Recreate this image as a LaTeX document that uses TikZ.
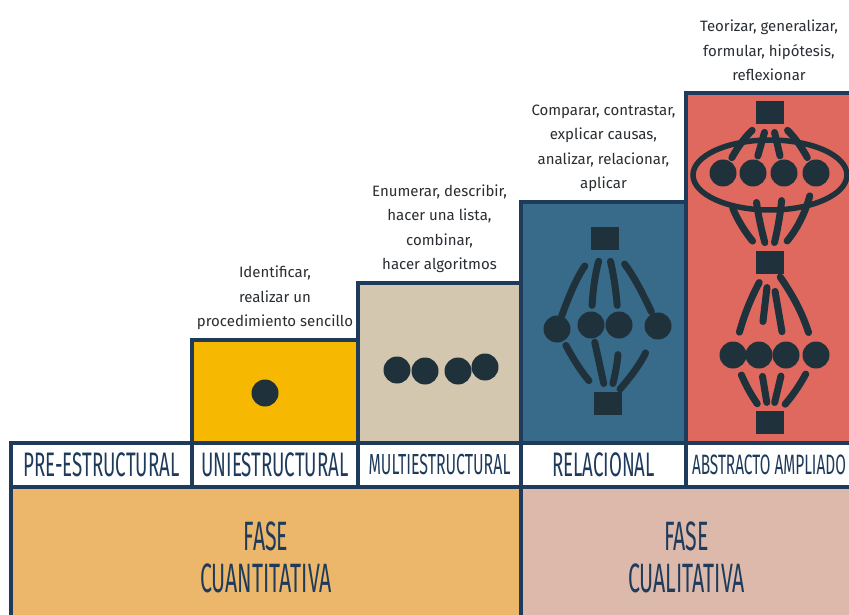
\documentclass[tikz,border=0pt]{standalone}
\usepackage{fontspec}
\usetikzlibrary{positioning}
\newfontfamily\handfont{Fira Sans}
\newfontfamily\capsfont[FakeStretch=0.55]{Fira Sans}
\newfontfamily\phasefont[FakeStretch=0.52]{Fira Sans}
\definecolor{navy}{HTML}{1F3B5B}
\definecolor{ink}{HTML}{1F323C}
\definecolor{verbgray}{HTML}{2A2E32}
\definecolor{uniyellow}{HTML}{F6B800}
\definecolor{multibeige}{HTML}{D4C7B0}
\definecolor{relblue}{HTML}{386A89}
\definecolor{abssalmon}{HTML}{E0695F}
\definecolor{quantorange}{HTML}{ECB76A}
\definecolor{qualpink}{HTML}{DCB9AA}

\begin{document}
\begin{tikzpicture}[x=1pt, y=-1pt,
        level/.style={rectangle, draw=navy, line width=4pt, anchor=south west, inner sep=0pt, outer sep=0pt},
        tag/.style={rectangle, draw=navy, fill=white, line width=4pt, anchor=north west, minimum height=44pt, inner sep=0pt, outer sep=0pt, text=navy, font={\capsfont\fontsize{34}{36}\selectfont}},
        phase/.style={rectangle, draw=navy, line width=4pt, anchor=north west, minimum height=140pt, inner sep=0pt, outer sep=0pt, align=center, text=navy, font={\phasefont\fontsize{41}{42}\selectfont}},
        verbs/.style={align=center, text=verbgray, inner sep=0pt, font={\handfont\fontsize{15}{24.5}\selectfont}},
        dot/.style={circle, fill=ink, inner sep=0pt, minimum size=27pt},
        sq/.style={rectangle, fill=ink, inner sep=0pt, minimum width=28pt, minimum height=23pt},
        link/.style={draw=ink, line width=7pt, line cap=round, shorten <=12pt, shorten >=6pt}]

        \clip (0,0) rectangle (849,615);
        \fill[white] (0,0) rectangle (849,615);

        % levels
        \node[level, fill=uniyellow, minimum width=166pt, minimum height=103pt] (uni) at (192,443) {};
        \node[level, fill=multibeige, minimum width=163pt, minimum height=160pt] (multi) at (358,443) {};
        \node[level, fill=relblue, minimum width=165pt, minimum height=241pt] (rel) at (521,443) {};
        \node[level, fill=abssalmon, minimum width=166pt, minimum height=350pt] (abs) at (686,443) {};

        % what each level does
        \node[verbs, above=10pt of uni] (univerbs) {Identificar,\\realizar un\\procedimiento sencillo};
        \node[verbs, above=10pt of multi] (multiverbs) {Enumerar, describir,\\hacer una lista,\\combinar,\\hacer algoritmos};
        \node[verbs, above=10pt of rel] (relverbs) {Comparar, contrastar,\\explicar causas,\\analizar, relacionar,\\aplicar};
        \node[verbs, above=12pt of abs] (absverbs) {Teorizar, generalizar,\\formular, hipótesis,\\reflexionar};

        % level names
        \node[tag, minimum width=181pt] (tagpre) at (11,443) {PRE-ESTRUCTURAL};
        \node[tag, minimum width=166pt] (taguni) at (192,443) {UNIESTRUCTURAL};
        \node[tag, minimum width=163pt, font={\capsfont\fontsize{29}{31}\selectfont}] (tagmulti) at (358,443) {MULTIESTRUCTURAL};
        \node[tag, minimum width=165pt] (tagrel) at (521,443) {RELACIONAL};
        \node[tag, minimum width=166pt, font={\capsfont\fontsize{28}{30}\selectfont}] (tagabs) at (686,443) {ABSTRACTO AMPLIADO};

        % phases
        \node[phase, fill=quantorange, minimum width=510pt] (quant) at (11,487) {FASE\\CUANTITATIVA};
        \node[phase, fill=qualpink, minimum width=331pt] (qual) at (521,487) {FASE\\CUALITATIVA};

        % uniestructural
        \node[dot] (u1) at (265,393) {};

        % multiestructural
        \node[dot] (m1) at (397,370) {};
        \node[dot] (m2) at (425,371) {};
        \node[dot] (m3) at (458,371) {};
        \node[dot] (m4) at (485,367) {};

        % relacional
        \node[sq] (r0) at (605,238) {};
        \node[dot] (r1) at (557,329) {};
        \node[dot] (r2) at (591,325) {};
        \node[dot] (r3) at (619,325) {};
        \node[dot] (r4) at (658,326) {};
        \node[sq] (r5) at (608,403) {};
        \draw[link, shorten <=20pt, shorten >=0pt] (r0) to[bend right=8] (r1);
        \draw[link] (r0) to[bend right=6] (r2);
        \draw[link] (r0) to[bend left=4] (r3);
        \draw[link, shorten <=18pt, shorten >=2pt] (r0) to[bend left=6] (r4);
        \draw[link, shorten <=5pt, shorten >=14pt] (r1) to[bend right=6] (r5);
        \draw[link, shorten <=4pt, shorten >=8pt] (r2) to (r5);
        \draw[link, shorten <=16pt, shorten >=8pt] (r3) to[bend left=6] (r5);
        \draw[link, shorten <=16pt, shorten >=3pt] (r4) to[bend left=8] (r5);

        % abstracto ampliado
        \node[sq] (a0) at (770,113) {};
        \node[dot] (a1) at (723,173) {};
        \node[dot] (a2) at (753,173) {};
        \node[dot] (a3) at (784,173) {};
        \node[dot] (a4) at (816,173) {};
        \draw[ink, line width=5.5pt] (770,175) ellipse [x radius=77pt, y radius=35pt];
        \node[sq] (a5) at (770,262) {};
        \node[dot] (a6) at (733,355) {};
        \node[dot] (a7) at (759,355) {};
        \node[dot] (a8) at (786,355) {};
        \node[dot] (a9) at (816,355) {};
        \node[sq] (a10) at (770,422) {};
        \draw[link, shorten <=8pt, shorten >=4pt] (a0) to[bend right=8] (a1);
        \draw[link, shorten <=8pt, shorten >=4pt] (a0) to (a2);
        \draw[link, shorten <=8pt, shorten >=4pt] (a0) to (a3);
        \draw[link, shorten <=8pt, shorten >=4pt] (a0) to[bend left=8] (a4);
        \draw[link, shorten <=22pt, shorten >=12pt] (a1) to[bend right=12] (a5);
        \draw[link, shorten <=16pt, shorten >=8pt] (a2) to[bend right=4] (a5);
        \draw[link, shorten <=14pt, shorten >=8pt] (a3) to[bend left=4] (a5);
        \draw[link, shorten <=10pt, shorten >=12pt] (a4) to[bend left=12] (a5);
        \draw[link, shorten <=10pt, shorten >=10pt] (a5) to[bend right=6] (a6);
        \draw[link, shorten <=14pt, shorten >=20pt] (a5) to (a7);
        \draw[link, shorten <=18pt, shorten >=10pt] (a5) to (a8);
        \draw[link, shorten <=4pt, shorten >=10pt] (a5) to[bend left=8] (a9);
        \draw[link, shorten <=8pt, shorten >=8pt] (a6) to[bend right=6] (a10);
        \draw[link, shorten <=8pt, shorten >=8pt] (a7) to (a10);
        \draw[link, shorten <=8pt, shorten >=8pt] (a8) to (a10);
        \draw[link, shorten <=8pt, shorten >=8pt] (a9) to[bend left=6] (a10);
    \end{tikzpicture}
\end{document}
